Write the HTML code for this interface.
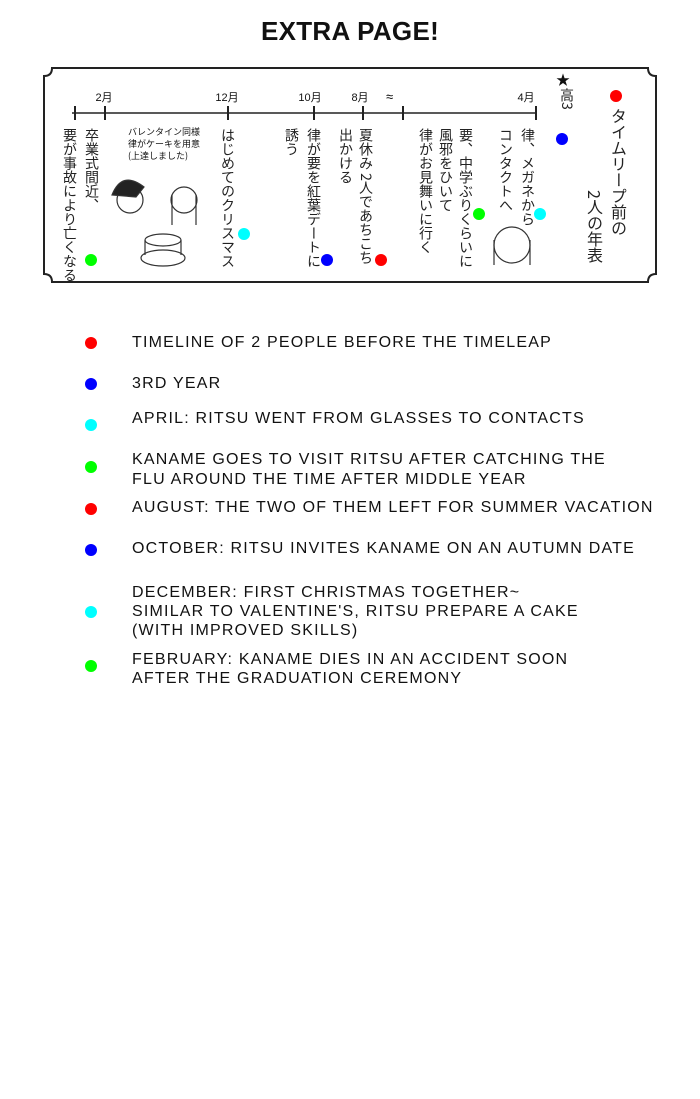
<!DOCTYPE html>
<html><head><meta charset="utf-8"><style>
body{margin:0;width:700px;height:1099px;background:#fff;position:relative;overflow:hidden;font-family:"Liberation Sans","Noto Sans CJK JP",sans-serif;color:#111}
.a{position:absolute}
.t{position:absolute;left:132px;font-size:16px;line-height:20px;white-space:nowrap;letter-spacing:1.2px}
.d{position:absolute;width:12px;height:12px;border-radius:50%;margin:-6px 0 0 -6px}
.v{position:absolute;writing-mode:vertical-rl;font-size:14px;line-height:16px;white-space:nowrap;font-family:"Noto Sans CJK JP",sans-serif;color:#222;transform:translateX(-8px)}
.m{position:absolute;font-size:11px;font-family:"Liberation Sans","Noto Sans CJK JP",sans-serif;transform:translateX(-50%)}
.tick{position:absolute;width:1.5px;height:14px;background:#222;top:106px}
</style></head><body>
<div class="a" style="left:0;width:700px;top:16px;text-align:center;font-size:26px;font-weight:bold;letter-spacing:0.3px">EXTRA PAGE!</div>
<svg class="a" style="left:0;top:0" width="700" height="300">
<path d="M52 68 H648 Q648 76 656 76 V274 Q648 274 648 282 H52 Q52 274 44 274 V76 Q52 76 52 68 Z" fill="none" stroke="#222" stroke-width="2"/>
<line x1="72" y1="113" x2="535" y2="113" stroke="#222" stroke-width="1.5"/>
<text x="386" y="101" font-size="13" font-family="Liberation Sans">≈</text>
<g fill="none" stroke="#333" stroke-width="1.2">
<circle cx="130" cy="200" r="13"/><path d="M112 195 q10 -25 32 -8 l-8 10z" fill="#222"/>
<circle cx="184" cy="200" r="13"/><path d="M172 195 v30 M196 195 v30"/>
<ellipse cx="163" cy="258" rx="22" ry="8"/><path d="M145 240 v15 M181 240 v15"/><ellipse cx="163" cy="240" rx="18" ry="6"/>
<circle cx="512" cy="245" r="18"/><path d="M494 240 v25 M530 240 v25"/>
</g>
</svg>
<div class="tick" style="left:74px"></div><div class="tick" style="left:104px"></div><div class="tick" style="left:227px"></div><div class="tick" style="left:313px"></div><div class="tick" style="left:362px"></div><div class="tick" style="left:402px"></div><div class="tick" style="left:535px"></div>
<div class="m" style="left:104px;top:89px">2月</div>
<div class="m" style="left:227px;top:89px">12月</div>
<div class="m" style="left:310px;top:89px">10月</div>
<div class="m" style="left:360px;top:89px">8月</div>
<div class="m" style="left:526px;top:89px">4月</div>
<div class="a" style="left:556px;top:70px;font-size:14px">★</div>
<div class="v" style="left:567px;top:88px">高3</div>
<div class="v" style="left:618px;top:108px;font-size:16px;line-height:18px">タイムリープ前の</div>
<div class="v" style="left:594px;top:190px;font-size:16px;line-height:18px">2人の年表</div>
<div class="v" style="left:528px;top:128px">律、メガネから</div>
<div class="v" style="left:506px;top:128px">コンタクトへ</div>
<div class="v" style="left:466px;top:128px">要、中学ぶりくらいに</div>
<div class="v" style="left:446px;top:128px">風邪をひいて</div>
<div class="v" style="left:426px;top:128px">律がお見舞いに行く</div>
<div class="v" style="left:366px;top:128px">夏休み 2人であちこち</div>
<div class="v" style="left:346px;top:128px">出かける</div>
<div class="v" style="left:314px;top:128px">律が要を紅葉デートに</div>
<div class="v" style="left:292px;top:128px">誘う</div>
<div class="v" style="left:228px;top:128px">はじめてのクリスマス</div>
<div class="v" style="left:92px;top:128px">卒業式間近、</div>
<div class="v" style="left:70px;top:128px">要が事故により亡くなる</div>
<div class="a" style="left:128px;top:126px;font-size:9px;line-height:12px;font-family:'Noto Sans CJK JP',sans-serif">バレンタイン同様<br>律がケーキを用意<br>(上達しました)</div>
<div class="d" style="left:616px;top:96px;background:#f00"></div>
<div class="d" style="left:562px;top:139px;background:#00f"></div>
<div class="d" style="left:540px;top:214px;background:#0ff"></div>
<div class="d" style="left:479px;top:214px;background:#0f0"></div>
<div class="d" style="left:381px;top:260px;background:#f00"></div>
<div class="d" style="left:327px;top:260px;background:#00f"></div>
<div class="d" style="left:244px;top:234px;background:#0ff"></div>
<div class="d" style="left:91px;top:260px;background:#0f0"></div>

<div class="d" style="left:91px;top:343px;background:#f00"></div>
<div class="d" style="left:91px;top:384px;background:#00f"></div>
<div class="d" style="left:91px;top:425px;background:#0ff"></div>
<div class="d" style="left:91px;top:467px;background:#0f0"></div>
<div class="d" style="left:91px;top:509px;background:#f00"></div>
<div class="d" style="left:91px;top:550px;background:#00f"></div>
<div class="d" style="left:91px;top:612px;background:#0ff"></div>
<div class="d" style="left:91px;top:666px;background:#0f0"></div>
<div class="t" style="top:333px">TIMELINE OF 2 PEOPLE BEFORE THE TIMELEAP</div>
<div class="t" style="top:374px">3RD YEAR</div>
<div class="t" style="top:409px">APRIL: RITSU WENT FROM GLASSES TO CONTACTS</div>
<div class="t" style="top:450px">KANAME GOES TO VISIT RITSU AFTER CATCHING THE</div>
<div class="t" style="top:470px">FLU AROUND THE TIME AFTER MIDDLE YEAR</div>
<div class="t" style="top:498px">AUGUST: THE TWO OF THEM LEFT FOR SUMMER VACATION</div>
<div class="t" style="top:539px">OCTOBER: RITSU INVITES KANAME ON AN AUTUMN DATE</div>
<div class="t" style="top:583px">DECEMBER: FIRST CHRISTMAS TOGETHER~</div>
<div class="t" style="top:602px">SIMILAR TO VALENTINE'S, RITSU PREPARE A CAKE</div>
<div class="t" style="top:621px">(WITH IMPROVED SKILLS)</div>
<div class="t" style="top:650px">FEBRUARY: KANAME DIES IN AN ACCIDENT SOON</div>
<div class="t" style="top:669px">AFTER THE GRADUATION CEREMONY</div>
</body></html>
